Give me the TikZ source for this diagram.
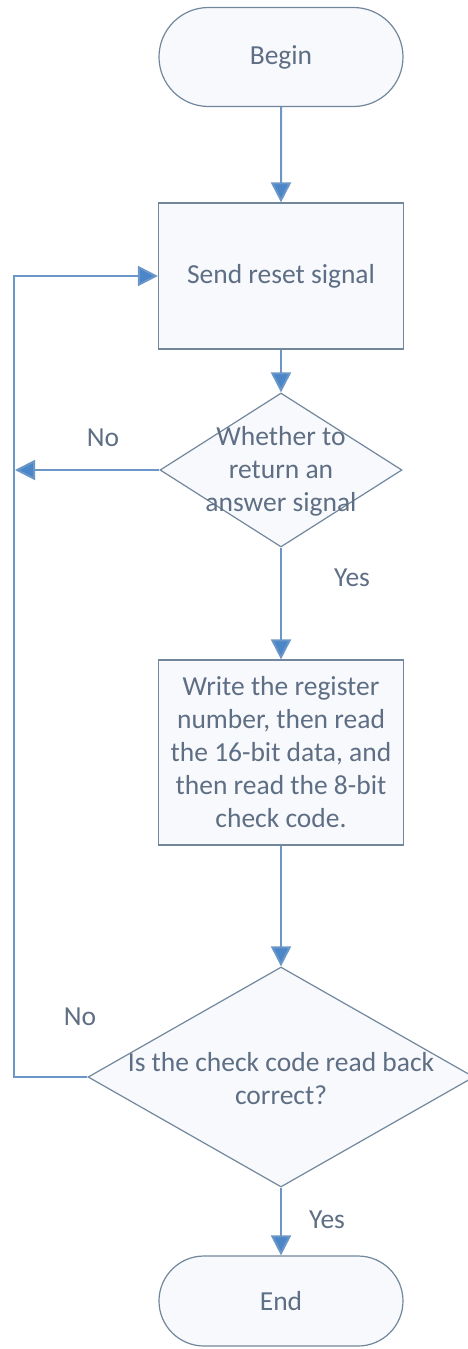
\documentclass[tikz,border=0pt]{standalone}
\usepackage{fontspec}
\setmainfont{Carlito}
\usetikzlibrary{shapes.misc,shapes.geometric,arrows.meta}
\definecolor{edgec}{HTML}{72879C}
\definecolor{conn}{HTML}{6A97C8}
\definecolor{tipc}{HTML}{4A86C8}
\definecolor{txtc}{HTML}{5E6E84}
\definecolor{fillc}{HTML}{F7F9FC}
\tikzset{
  shapebase/.style={draw=edgec, line width=1.2pt, fill=fillc, text=txtc, font=\fontsize{27.5}{33}\selectfont, inner sep=0pt},
  term/.style={shapebase, rounded rectangle, minimum width=244pt},
  proc/.style={shapebase, rectangle, minimum width=245pt, align=center},
  dec/.style={shapebase, diamond},
  txtn/.style={text=txtc, font=\fontsize{27.5}{33}\selectfont, align=center, inner sep=0pt},
  lbl/.style={text=txtc, font=\fontsize{27.5}{33}\selectfont, inner sep=0pt},
  arr/.style={draw=conn, line width=2pt, -{Triangle[length=20pt,width=20pt,fill=tipc]}}
}
\begin{document}
\begin{tikzpicture}[x=1pt,y=-1pt]
\useasboundingbox (0,0) rectangle (467,1349);
\node[term, minimum height=99pt] (begin) at (281,57) {Begin};
\node[proc, minimum height=146pt] (reset) at (281,276) {Send reset signal};
\node[dec, minimum width=242pt, minimum height=154pt] (d1) at (281,470) {};
\node[txtn] (d1t) at (281,471) {Whether to\\return an\\answer signal};
\node[proc, minimum height=185pt] (write) at (281,752.5) {Write the register\\number, then read\\the 16-bit data, and\\then read the 8-bit\\check code.};
\node[dec, minimum width=386pt, minimum height=220pt] (d2) at (281,1077) {};
\node[txtn] (d2t) at (281,1079) {Is the check code read back\\correct?};
\node[term, minimum height=90pt] (end) at (281,1301) {End};

\coordinate (noend) at (15,470);
\coordinate (loopc) at (14,1077);

\draw[arr] (begin) -- (reset);
\draw[arr] (reset) -- (d1);
\draw[arr] (d1) -- (write);
\draw[arr] (write) -- (d2);
\draw[arr] (d2) -- (end);
\draw[arr] (d1.west) -- (noend);
\draw[arr] (d2.west) -- (loopc) |- (reset.west);

\node[lbl] (no1) at (103,438) {No};
\node[lbl] (yes1) at (352,578) {Yes};
\node[lbl] (no2) at (80,1017) {No};
\node[lbl] (yes2) at (327,1220) {Yes};
\end{tikzpicture}
\end{document}
